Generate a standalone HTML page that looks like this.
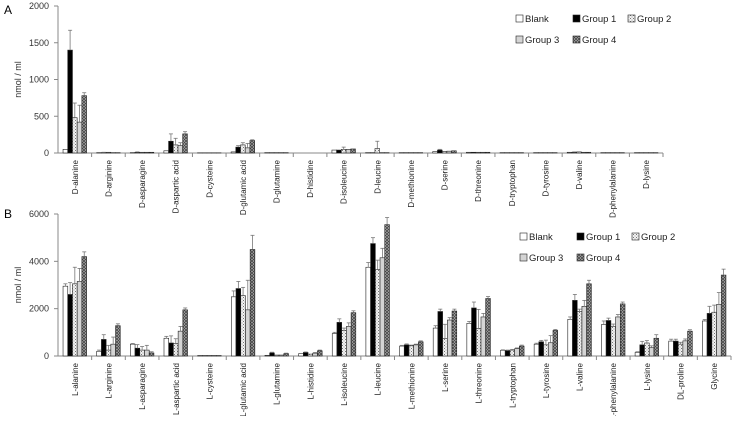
<!DOCTYPE html>
<html><head><meta charset="utf-8"><style>
body{margin:0;background:#fff;font-family:"Liberation Sans",sans-serif}
svg text{font-family:"Liberation Sans",sans-serif}
</style></head><body>
<svg id="c" width="733" height="416" xmlns="http://www.w3.org/2000/svg">
<defs>
<pattern id="p2" width="3" height="3" patternUnits="userSpaceOnUse"><rect width="3" height="3" fill="#f2f2f2"/><rect width="1" height="1" fill="#777"/><rect x="1.5" y="1.5" width="1" height="1" fill="#999"/></pattern>
<pattern id="p4" width="3" height="3" patternUnits="userSpaceOnUse"><rect width="3" height="3" fill="#bbb"/><path d="M0,0L3,3M3,0L0,3" stroke="#444" stroke-width="0.8"/></pattern>
</defs>
<text x="4" y="14" font-size="12">A</text>
<text x="4" y="218" font-size="12">B</text>
</svg>
<script>
const catsA=["D-alanine","D-arginine","D-asparagine","D-aspartic acid","D-cysteine","D-glutamic acid","D-glutamine","D-histidine","D-isoleucine","D-leucine","D-methionine","D-serine","D-threonine","D-tryptophan","D-tyrosine","D-valine","D-phenylalanine","D-lysine"];
const blankA=[50,5,5,30,3,15,5,0,40,5,5,20,10,5,5,10,5,5];
const g1A=[1400,5,10,160,3,80,5,0,40,5,5,40,10,5,5,10,5,5];
const g2A=[480,10,10,110,3,110,5,0,50,60,5,20,10,5,5,15,5,5];
const g3A=[420,5,10,100,3,70,5,0,50,5,5,25,10,5,5,10,5,5];
const g4A=[780,5,10,260,3,170,5,0,55,5,5,30,10,5,5,10,5,5];
const errA=[[0,270,200,230,40],[0,5,0,0,0],[0,5,0,0,0],[0,100,90,40,30],[0,0,0,0,0],[0,20,30,60,10],[0,0,0,0,0],[0,0,0,0,0],[0,0,30,0,0],[0,0,100,0,0],[0,0,0,0,0],[0,10,0,0,0],[0,0,0,0,0],[0,0,0,0,0],[0,0,0,0,0],[0,5,0,0,0],[0,0,0,0,0],[0,0,0,0,0]];
const ticksA=[0,500,1000,1500,2000];
const catsB=["L-alanine","L-arginine","L-asparagine","L-aspartic acid","L-cysteine","L-glutamic acid","L-glutamine","L-histidine","L-isoleucine","L-leucine","L-methionine","L-serine","L-threonine","L-tryptophan","L-tyrosine","L-valine","L-phenylalanine","L-lysine","DL-proline","Glycine"];
const blankB=[2950,200,500,750,20,2500,30,100,950,3750,420,1180,1380,240,500,1550,1330,150,630,1480];
const g1B=[2600,700,330,550,20,2850,130,150,1420,4750,470,1880,2030,220,600,2350,1500,470,630,1800];
const g2B=[3050,250,250,530,20,2550,40,80,1080,3650,430,740,1170,250,470,1880,1250,550,500,1850];
const g3B=[3150,500,250,1050,20,1950,40,120,1250,4150,470,1520,1650,310,560,2100,1650,350,640,2180];
const g4B=[4200,1280,130,1950,20,4500,100,220,1830,5550,600,1900,2430,420,1080,3050,2200,750,1050,3420];
const errB=[[100,500,700,550,200],[50,200,200,300,80],[30,150,150,200,50],[80,300,200,200,80],[0,0,0,0,0],[250,300,350,1250,600],[0,30,0,0,20],[0,20,0,30,30],[50,150,100,150,80],[200,250,400,400,300],[30,40,30,30,40],[100,100,600,100,80],[80,250,800,150,80],[20,30,30,30,40],[40,60,200,300,40],[100,250,100,250,150],[150,100,100,100,80],[30,150,100,80,150],[80,80,80,80,60],[60,300,300,500,250]];
const ticksB=[0,2000,4000,6000];
const fills=["#fff","#000","url(#p2)","#d4d4d4","url(#p4)"];
const names=["Blank","Group 1","Group 2","Group 3","Group 4"];
const NS="http://www.w3.org/2000/svg";
const svg=document.getElementById('c');
function mk(t,a,p){const e=document.createElementNS(NS,t);for(const k in a)e.setAttribute(k,a[k]);(p||svg).appendChild(e);return e;}
function panel(id,cats,series,errs,ticks,x0,x1,y0,y1,ymax,legX,legY){
  const g=mk('g',{});
  
  
  const ys=v=>y0-(v/ymax)*(y0-y1);
  const cw=(x1-x0)/cats.length;
  mk('line',{x1:x0,y1:y0,x2:x0,y2:y1,stroke:'#888','stroke-width':1},g);
  ticks.forEach(t=>{mk('line',{x1:x0-4,x2:x0,y1:ys(t),y2:ys(t),stroke:'#888'},g);
    const tx=mk('text',{x:x0-9,y:ys(t)+3,'font-size':9,'text-anchor':'end',fill:'#333'},g);tx.textContent=t;
    
    });
  const yt=mk('text',{transform:`translate(21,${(y0+y1)/2}) rotate(-90)`,'font-size':9,'text-anchor':'middle',fill:'#333'},g);
  yt.textContent='nmol / ml';
  
  
  mk('line',{x1:x0,y1:y0,x2:x1,y2:y0,stroke:'#888'},g);
  const bw=cw*0.14, off=cw*0.15;
  cats.forEach((c,i)=>{
    mk('line',{x1:x0+cw*(i+1),x2:x0+cw*(i+1),y1:y0,y2:y0+4,stroke:'#888'},g);
    const cx=x0+cw*(i+0.5);
    series.forEach((s,j)=>{
      const bx=x0+cw*i+off+j*bw, v=s[i];
      const r=mk('rect',{x:bx,y:ys(v),width:bw,height:Math.max(0,y0-ys(v)),fill:fills[j],stroke:'#222','stroke-width':0.6},g);
      
      
      const e=errs[i][j];
      if(e>0){const ex=bx+bw/2;
        mk('line',{x1:ex,x2:ex,y1:ys(v),y2:ys(v+e),stroke:'#777','stroke-width':0.8},g);
        mk('line',{x1:ex-2,x2:ex+2,y1:ys(v+e),y2:ys(v+e),stroke:'#777','stroke-width':0.8},g);}
    });
    const lt=mk('text',{transform:`translate(${cx+3},${y0+7}) rotate(-90)`,'font-size':8,'text-anchor':'end',fill:'#222'},g);
    lt.textContent=c;
    
    
  });
  const pos=[[0,0],[57,0],[112,0],[0,21],[57,21]];
  names.forEach((n,j)=>{
    const lg=mk('g',{},g);
    
    
    const lx=legX+pos[j][0], ly=legY+pos[j][1];
    mk('rect',{x:lx,y:ly-7,width:7,height:7,fill:fills[j],stroke:'#222','stroke-width':0.6},lg);
    const t=mk('text',{x:lx+9,y:ly,'font-size':9.5,fill:'#222'},lg);t.textContent=n;
  });
}
panel('a',catsA,[blankA,g1A,g2A,g3A,g4A],errA,ticksA,58,663,153,6,2000,516,22);
panel('b',catsB,[blankB,g1B,g2B,g3B,g4B],errB,ticksB,58,731,356,214,6000,520,240);
</script>
</body></html>
